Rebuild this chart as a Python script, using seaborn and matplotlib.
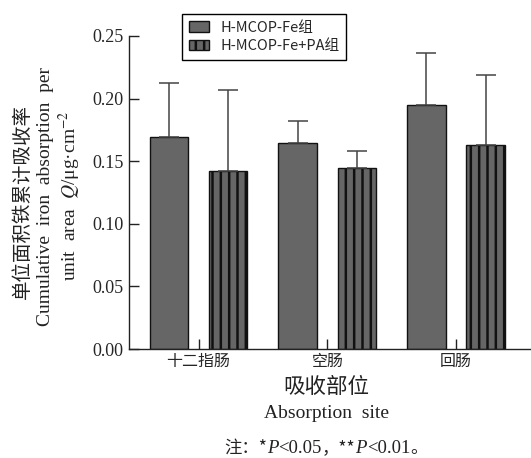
import numpy as np
import pandas as pd
import matplotlib
matplotlib.use('Agg')
import matplotlib.pyplot as plt
import seaborn as sns
from matplotlib.offsetbox import TextArea, HPacker, AnnotationBbox

# data
sites = ['十二指肠', '空肠', '回肠']
groups = ['H-MCOP-Fe组', 'H-MCOP-Fe+PA组']
fe_mean = [0.169, 0.1645, 0.195]
fe_sd = [0.0437, 0.0175, 0.0417]
pa_mean = [0.142, 0.1446, 0.163]
pa_sd = [0.065, 0.0134, 0.0556]
y_ticks = [0.00, 0.05, 0.10, 0.15, 0.20, 0.25]

df = pd.DataFrame({
    'site': sites * 2,
    'group': [groups[0]] * 3 + [groups[1]] * 3,
    'Q': fe_mean + pa_mean,
})

sns.set_style('ticks')
plt.rcParams['font.family'] = ['Liberation Serif', 'DejaVu Sans']
plt.rcParams['mathtext.fontset'] = 'stix'
plt.rcParams['hatch.linewidth'] = 1.8
plt.rcParams['hatch.color'] = '#111111'

bar_color = '#666666'
cjk = ['Noto Sans CJK SC', 'DejaVu Sans']
txt_color = '#222222'

fig = plt.figure(figsize=(5.31, 4.58), dpi=100)
ax = fig.add_axes([129 / 531, 1 - 349 / 458, 1 - 129 / 531 + 0.002, (349 - 36) / 458])

sns.barplot(data=df, x='site', y='Q', hue='group', order=sites, hue_order=groups,
            palette=[bar_color, bar_color], width=0.92, gap=0.35, errorbar=None,
            edgecolor='#111111', linewidth=1.0, legend=False, ax=ax)

for bar in ax.containers[1]:
    bar.set_hatch('||')

# upward-only error bars
for cont, sd in zip(ax.containers, [fe_sd, pa_sd]):
    xs = [b.get_x() + b.get_width() / 2 for b in cont]
    ys = [b.get_height() for b in cont]
    ax.errorbar(xs, ys, yerr=[np.zeros(len(sd)), sd], fmt='none', ecolor='#444444',
                elinewidth=1.1, capsize=7, capthick=1.1, zorder=1)

ax.set_ylim(0, 0.25)
ax.set_xlim(-0.54, 2.59)
ax.set_yticks(y_ticks)
ax.set_yticklabels([f'{v:.2f}' for v in y_ticks], fontsize=13)
ax.set_xticks(range(len(sites)))
ax.set_xticklabels(sites, family=cjk, fontsize=11.5, fontweight='medium')
ax.tick_params(axis='both', direction='in', length=7, width=1, color=txt_color, pad=4)
ax.tick_params(axis='x', pad=3)
ax.set_xlabel('')
ax.set_ylabel('')
sns.despine(ax=ax, top=True, right=True)
for s in ['left', 'bottom']:
    ax.spines[s].set_linewidth(1.0)
    ax.spines[s].set_color(txt_color)

leg = ax.legend(handles=[ax.containers[0][0], ax.containers[1][0]], labels=groups,
                loc='upper left', bbox_to_anchor=(182 / 531, 1 - 14 / 458),
                bbox_transform=fig.transFigure, borderaxespad=0, fancybox=False,
                framealpha=1, edgecolor='black', prop={'family': cjk, 'size': 10.5},
                handlelength=1.4, handleheight=0.7, handletextpad=0.8,
                labelspacing=0.3, borderpad=0.45)
leg.get_frame().set_linewidth(1.0)

# y-axis title (three lines)
fig.text(22 / 531, 1 - 201 / 458, '单位面积铁累计吸收率', rotation=90, ha='center', va='center',
         family=cjk, fontsize=14, fontweight='light', color=txt_color)
fig.text(46 / 531, 1 - 196 / 458, 'Cumulative  iron  absorption  per', rotation=90,
         ha='center', va='center', fontsize=14, color=txt_color)
fig.text(70 / 531, 1 - 196 / 458, r'unit  area  $Q$/μg·cm$^{-2}$', rotation=90,
         ha='center', va='center', fontsize=14, color=txt_color)

# x-axis title and note
fig.text(326 / 531, 1 - 387 / 458, '吸收部位', ha='center', va='center',
         family=cjk, fontsize=15.5, fontweight='light', color=txt_color)
fig.text(326 / 531, 1 - 414 / 458, 'Absorption  site', ha='center', va='center',
         fontsize=14, color=txt_color)

serif = {'family': 'Liberation Serif', 'size': 13.5, 'color': txt_color}
serif_it = dict(serif, style='italic')
cjk_p = {'family': cjk, 'size': 12.5, 'color': txt_color, 'weight': 'light'}
parts = [('注：*', cjk_p), ('P', serif_it), ('<0.05', serif), ('，**', cjk_p),
         ('P', serif_it), ('<0.01', serif), ('。', cjk_p)]
note = HPacker(children=[TextArea(t, textprops=p) for t, p in parts],
               sep=0, pad=0, align='baseline')
fig.add_artist(AnnotationBbox(note, (326 / 531, 1 - 448 / 458), xycoords='figure fraction',
                              frameon=False, box_alignment=(0.5, 0.5), pad=0))

fig.savefig('out.png', dpi=100)
